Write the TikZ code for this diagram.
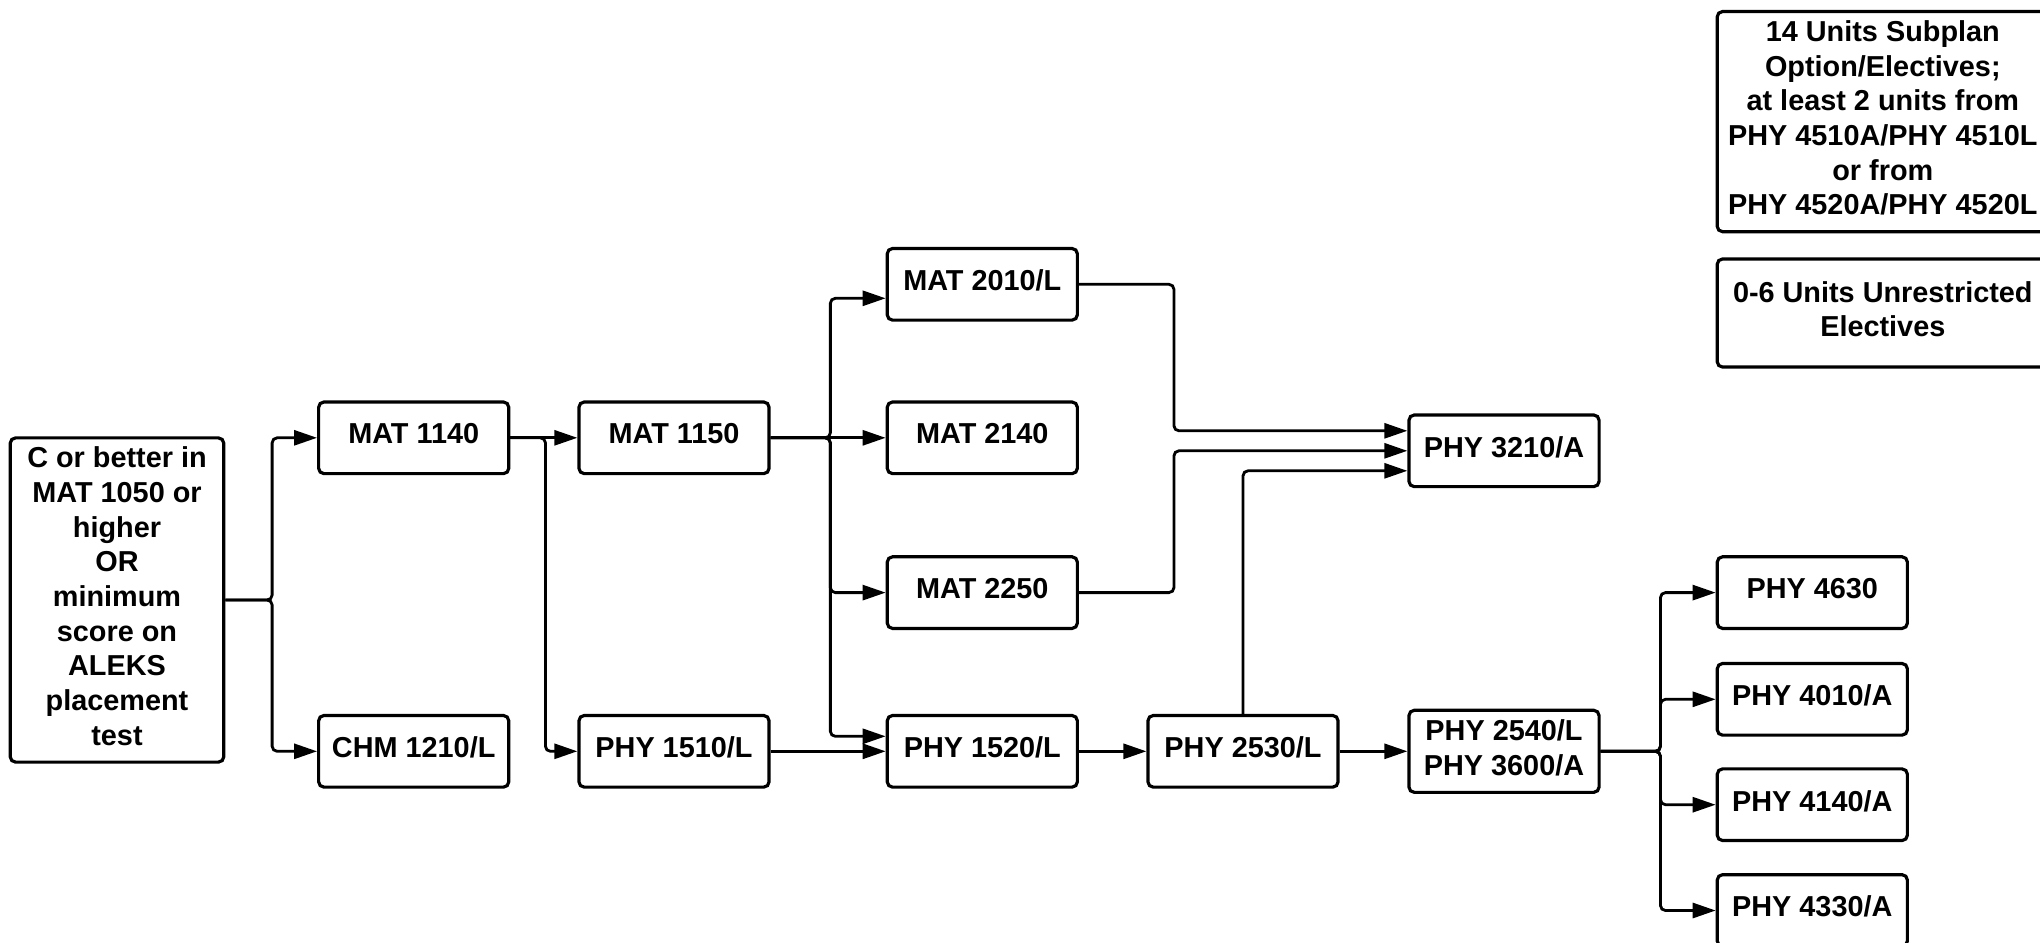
\documentclass[tikz,border=0pt]{standalone}
\usepackage{fontspec}
\setmainfont{Liberation Sans}
\usetikzlibrary{arrows.meta,calc}
\begin{document}
\begin{tikzpicture}[x=0.01cm,y=-0.01cm]
        \tikzstyle{box}=[draw=black,line width=0.9pt,rounded corners=1.5pt,align=center,inner sep=0pt,text depth=0.08cm,font=\bfseries\fontsize{8.2}{9.85}\selectfont]
        \tikzstyle{course}=[box,minimum width=1.9cm,minimum height=0.716cm]
        \tikzstyle{edge}=[draw,line width=0.8pt,rounded corners=0.05cm,-{Triangle[length=0.23cm,width=0.15cm]}]
        \useasboundingbox (0,0) rectangle (2040,942);
        % entry requirement
        \node [box,minimum width=2.134cm,minimum height=3.24cm] (start) at (117,600) {C or better in\\MAT 1050 or\\higher\\OR\\minimum\\score on\\ALEKS\\placement\\test};
        % courses
        \node [course] (m1140) at (413.7,437.8) {MAT 1140};
        \node [course] (c1210) at (413.7,751.3) {CHM 1210/L};
        \node [course] (m1150) at (674,437.8) {MAT 1150};
        \node [course] (p1510) at (674,751.3) {PHY 1510/L};
        \node [course] (m2010) at (982.3,284.3) {MAT 2010/L};
        \node [course] (m2140) at (982.3,437.8) {MAT 2140};
        \node [course] (m2250) at (982.3,592.6) {MAT 2250};
        \node [course] (p1520) at (982.3,751.3) {PHY 1520/L};
        \node [course] (p2530) at (1243,751.3) {PHY 2530/L};
        \node [course] (p3210) at (1504,450.8) {PHY 3210/A};
        \node [course,minimum height=0.82cm] (p2540) at (1504,751.3) {PHY 2540/L\\PHY 3600/A};
        \node [course] (p4630) at (1812.3,592.6) {PHY 4630};
        \node [course] (p4010) at (1812.3,699.3) {PHY 4010/A};
        \node [course] (p4140) at (1812.3,804.7) {PHY 4140/A};
        \node [course] (p4330) at (1812.3,910.5) {PHY 4330/A};
        % electives
        \node [box,minimum width=3.31cm,minimum height=2.2cm] (sub) at (1882.8,121.6) {14 Units Subplan\\Option/Electives;\\at least 2 units from\\PHY 4510A/PHY 4510L\\or from\\PHY 4520A/PHY 4520L};
        \node [box,minimum width=3.31cm,minimum height=1.08cm] (unr) at (1882.8,313) {0-6 Units Unrestricted\\Electives};
        % connectors
        \path[edge] (start.east) -- ++(46.8,0) |- (m1140.west);
        \path[edge] (start.east) -- ++(46.8,0) |- (c1210.west);
        \path[edge] (m1140.east) -- (m1150.west);
        \path[edge] (m1140.east) -- ++(35.1,0) |- (p1510.west);
        \path[edge] (m1150.east) -- ++(59.7,0) |- ($(m2010.west)+(0,14)$);
        \path[edge] (m1150.east) -- (m2140.west);
        \path[edge] (m1150.east) -- ++(59.7,0) |- (m2250.west);
        \path[edge] (m1150.east) -- ++(59.7,0) |- ($(p1520.west)+(0,-15)$);
        \path[edge] (p1510.east) -- (p1520.west);
        \path[edge] (p1520.east) -- (p2530.west);
        \path[edge] (p2530.east) -- (p2540.west);
        \path[edge] (m2010.east) -- ++(95,0) |- ($(p3210.west)+(0,-20)$);
        \path[edge] (m2250.east) -- ++(95,0) |- (p3210.west);
        \path[edge] (p2530.north) |- ($(p3210.west)+(0,20)$);
        \path[edge] (p2540.east) -- ++(59.8,0) |- (p4630.west);
        \path[edge] (p2540.east) -- ++(59.8,0) |- (p4010.west);
        \path[edge] (p2540.east) -- ++(59.8,0) |- (p4140.west);
        \path[edge] (p2540.east) -- ++(59.8,0) |- (p4330.west);
\end{tikzpicture}
\end{document}
